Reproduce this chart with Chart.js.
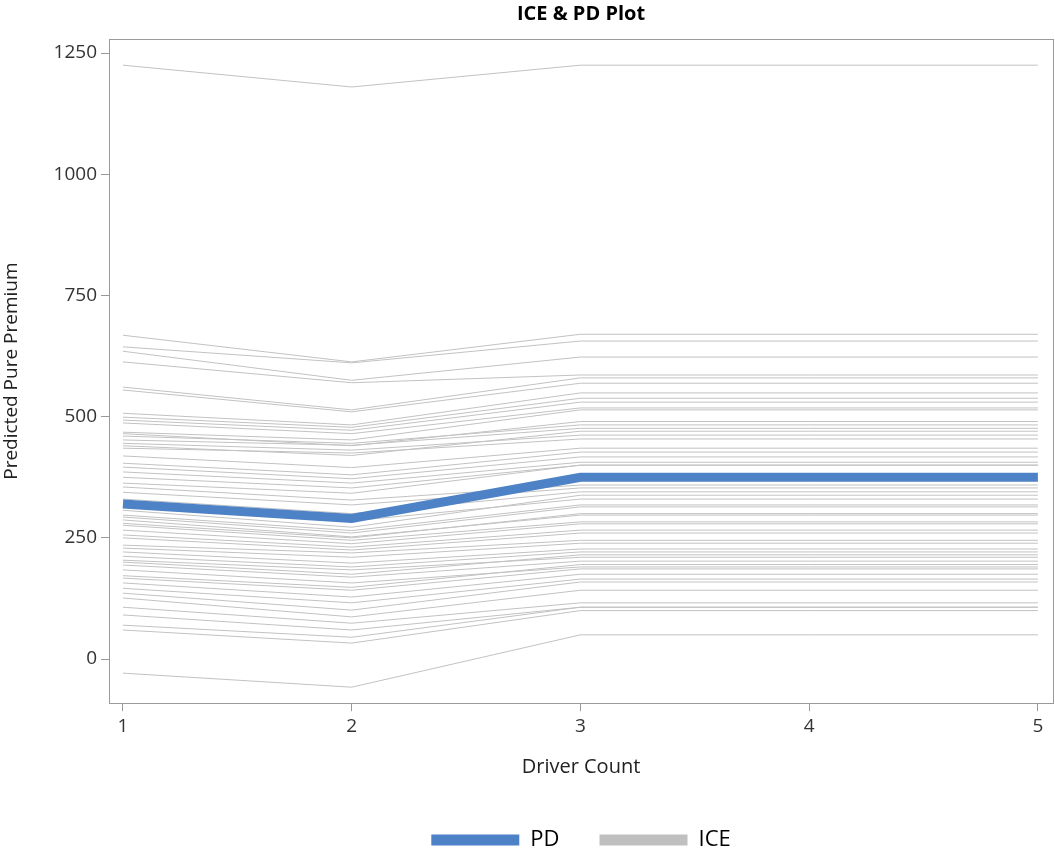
<!DOCTYPE html>
<html>
<head>
<meta charset="utf-8">
<script src="https://cdn.jsdelivr.net/npm/chart.js@4.4.1/dist/chart.umd.min.js"></script>
<style>
html,body{margin:0;padding:0;background:#fff;}
#wrap{width:1055px;height:855px;position:relative;}
</style>
</head>
<body>
<div id="wrap"><canvas id="c" width="1055" height="855"></canvas></div>
<script>
// ---- data ----
const driverCount = [1, 2, 3, 4, 5];
const xTicks = [1, 2, 3, 4, 5];
const yTicks = [0, 250, 500, 750, 1000, 1250];
const pdValues = [320, 290, 375, 375, 375];
const iceLines = [
  [1225, 1180, 1225, 1225, 1225],
  [668, 613, 670, 670, 670],
  [644, 611, 656, 656, 656],
  [635, 575, 623, 623, 623],
  [613, 570, 586, 586, 586],
  [561, 514, 580, 580, 580],
  [555, 510, 569, 569, 569],
  [507, 483, 549, 549, 549],
  [499, 478, 538, 538, 538],
  [493, 472, 530, 530, 530],
  [487, 465, 518, 518, 518],
  [468, 452, 514, 514, 514],
  [465, 440, 490, 490, 490],
  [460, 445, 483, 483, 483],
  [452, 441, 476, 476, 476],
  [445, 431, 462, 462, 462],
  [440, 420, 470, 470, 470],
  [435, 425, 454, 454, 454],
  [419, 395, 435, 435, 435],
  [404, 380, 427, 427, 427],
  [396, 372, 417, 417, 417],
  [386, 363, 406, 406, 406],
  [375, 353, 400, 400, 400],
  [363, 342, 400, 400, 400],
  [355, 328, 359, 359, 359],
  [344, 318, 353, 353, 353],
  [330, 300, 345, 345, 345],
  [315, 285, 330, 330, 330],
  [307, 272, 338, 338, 338],
  [297, 265, 318, 318, 318],
  [293, 260, 314, 314, 314],
  [287, 252, 297, 297, 297],
  [280, 250, 300, 300, 300],
  [276, 245, 283, 283, 283],
  [266, 238, 279, 279, 279],
  [256, 231, 266, 266, 266],
  [250, 225, 260, 260, 260],
  [235, 219, 245, 245, 245],
  [229, 210, 239, 239, 239],
  [221, 198, 227, 227, 227],
  [212, 190, 221, 221, 221],
  [204, 184, 210, 210, 210],
  [200, 175, 215, 215, 215],
  [194, 169, 202, 202, 202],
  [184, 157, 190, 190, 190],
  [172, 148, 195, 195, 195],
  [167, 142, 186, 186, 186],
  [157, 128, 175, 175, 175],
  [146, 116, 165, 165, 165],
  [136, 101, 159, 159, 159],
  [126, 87, 142, 142, 142],
  [107, 74, 116, 116, 116],
  [91, 60, 107, 107, 107],
  [70, 45, 107, 107, 107],
  [60, 33, 100, 100, 100],
  [-29, -58, 50, 50, 50]
];
const seriesNames = ['PD', 'ICE'];

// ---- chart ----
const PD_COLOR = '#4d82c6';
const ICE_COLOR = '#c2c2c2';
const AXIS_COLOR = '#9a9a9a';
const FONT = 'Open Sans, Lato, sans-serif';

const toXY = vals => vals.map((v, i) => ({x: driverCount[i], y: v}));

const datasets = [{
  label: seriesNames[0],
  data: toXY(pdValues),
  borderColor: PD_COLOR,
  backgroundColor: PD_COLOR,
  borderWidth: 9,
  pointRadius: 0,
  tension: 0
}].concat(iceLines.map(vals => ({
  label: seriesNames[1],
  data: toXY(vals),
  borderColor: ICE_COLOR,
  backgroundColor: '#bfbfbf',
  borderWidth: 1,
  pointRadius: 0,
  tension: 0
})));

const framePlugin = {
  id: 'frame',
  afterLayout(chart) {
    if (chart.legend) { chart.legend.top += 10; chart.legend.bottom += 10; }
  },
  afterDraw(chart) {
    const a = chart.chartArea, ctx = chart.ctx;
    ctx.save();
    ctx.strokeStyle = AXIS_COLOR;
    ctx.lineWidth = 1;
    ctx.strokeRect(Math.round(a.left) + 0.5, Math.round(a.top) + 0.5,
                   Math.round(a.right - a.left), Math.round(a.bottom - a.top));
    ctx.restore();
  }
};

new Chart(document.getElementById('c'), {
  type: 'line',
  data: {datasets},
  plugins: [framePlugin],
  options: {
    responsive: false,
    animation: false,
    devicePixelRatio: 1,
    layout: {padding: {left: 0, right: 2, top: 0, bottom: 4}},
    plugins: {
      tooltip: {enabled: false},
      title: {
        display: true,
        text: 'ICE & PD Plot',
        fullSize: false,
        color: '#000',
        font: {family: FONT, size: 20, weight: 'bold'},
        padding: {top: 2, bottom: 13}
      },
      legend: {
        position: 'bottom',
        fullSize: false,
        labels: {
          boxWidth: 88,
          boxHeight: 11,
          padding: 40,
          color: '#000',
          font: {family: FONT, size: 22},
          generateLabels: chart => chart.data.datasets.slice(0, 2).map((ds, i) => ({
            text: ds.label,
            fillStyle: ds.backgroundColor,
            strokeStyle: ds.backgroundColor,
            lineWidth: 0,
            hidden: false,
            datasetIndex: i
          }))
        }
      }
    },
    scales: {
      x: {
        type: 'linear',
        min: 0.939,
        max: 5.066,
        afterBuildTicks: s => { s.ticks = xTicks.map(v => ({value: v})); },
        afterFit: s => { s.height += 5; },
        border: {display: true, color: AXIS_COLOR},
        grid: {display: true, drawOnChartArea: false, drawTicks: true, tickLength: 8, color: AXIS_COLOR},
        ticks: {color: '#333', padding: 4, font: {family: FONT, size: 19},
                callback: v => String(v)},
        title: {display: true, text: 'Driver Count', color: '#222',
                font: {family: FONT, size: 20}, padding: {top: 8, bottom: 0}}
      },
      y: {
        type: 'linear',
        min: -91,
        max: 1279,
        afterBuildTicks: s => { s.ticks = yTicks.map(v => ({value: v})); },
        afterFit: s => { s.width = 109; },
        border: {display: true, color: AXIS_COLOR},
        grid: {display: true, drawOnChartArea: false, drawTicks: true, tickLength: 8, color: AXIS_COLOR},
        ticks: {color: '#333', padding: 4, font: {family: FONT, size: 19},
                callback: v => String(v)},
        title: {display: true, text: 'Predicted Pure Premium', color: '#222',
                font: {family: FONT, size: 19}, padding: {top: 0, bottom: 0}}
      }
    }
  }
});
</script>
</body>
</html>
